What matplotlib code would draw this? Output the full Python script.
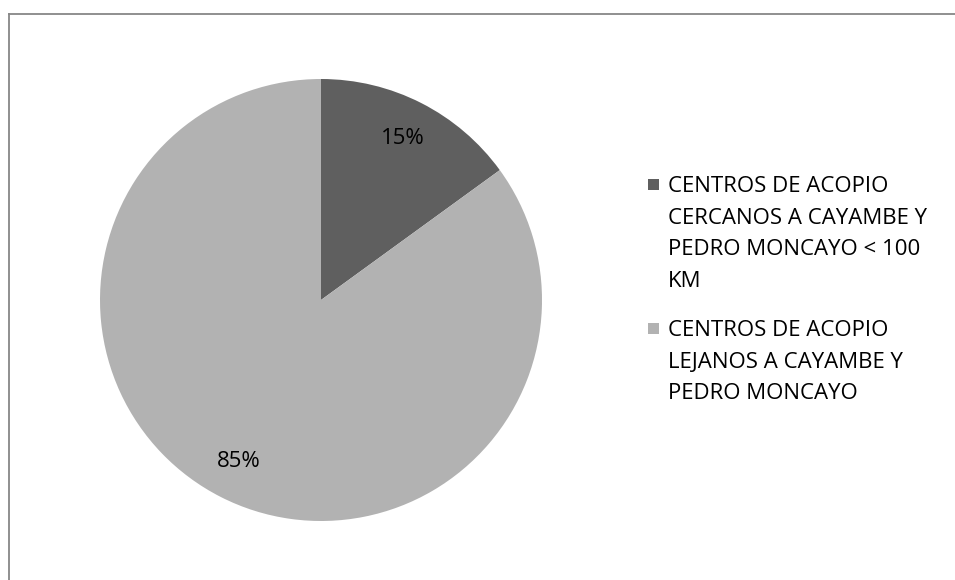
import matplotlib
matplotlib.use("Agg")
import matplotlib.pyplot as plt
from matplotlib.patches import Rectangle
from matplotlib.lines import Line2D

# data
labels = [
    "CENTROS DE ACOPIO\nCERCANOS A CAYAMBE Y\nPEDRO MONCAYO < 100\nKM",
    "CENTROS DE ACOPIO\nLEJANOS A CAYAMBE Y\nPEDRO MONCAYO",
]
values = [15, 85]
colors = ["#5f5f5f", "#b2b2b2"]

W, H = 955, 580
plt.rcParams["font.family"] = ["Open Sans", "DejaVu Sans"]

fig = plt.figure(figsize=(W / 100, H / 100), dpi=100)

# chart frame (cut off at right and bottom like the reference)
frame_color = "#878787"
fig.add_artist(Line2D([9 / W, 9 / W], [0, 1 - 13.5 / H], transform=fig.transFigure,
                      color=frame_color, lw=1.3))
fig.add_artist(Line2D([9 / W, 1], [1 - 13.5 / H, 1 - 13.5 / H], transform=fig.transFigure,
                      color=frame_color, lw=1.3))

# pie, center (321, 300) px, radius 221 px
cx, cy, r = 321, 300, 221
ax = fig.add_axes([(cx - r) / W, (H - cy - r) / H, 2 * r / W, 2 * r / H])
wedges, texts, autotexts = ax.pie(
    values, colors=colors, startangle=90, counterclock=False,
    autopct=lambda p: f"{p:.0f}%", pctdistance=0.82,
    wedgeprops=dict(linewidth=0),
    textprops=dict(fontsize=16, color="#000000"),
)
ax.set_xlim(-1, 1)
ax.set_ylim(-1, 1)
ax.axis("off")

# legend drawn by hand so the swatch sits on the first text line
legend_x = 668
entry_tops = [185, 329]
for lab, col, top in zip(labels, colors, entry_tops):
    fig.add_artist(Rectangle(((legend_x - 20) / W, 1 - (top + 5) / H), 11 / W, 11 / H,
                             transform=fig.transFigure, facecolor=col, edgecolor="none"))
    fig.text(legend_x / W, 1 - (top - 9) / H, lab, ha="left", va="top",
             fontsize=16, color="#000000", linespacing=1.66)

fig.savefig("out.png", dpi=100, facecolor="white")
